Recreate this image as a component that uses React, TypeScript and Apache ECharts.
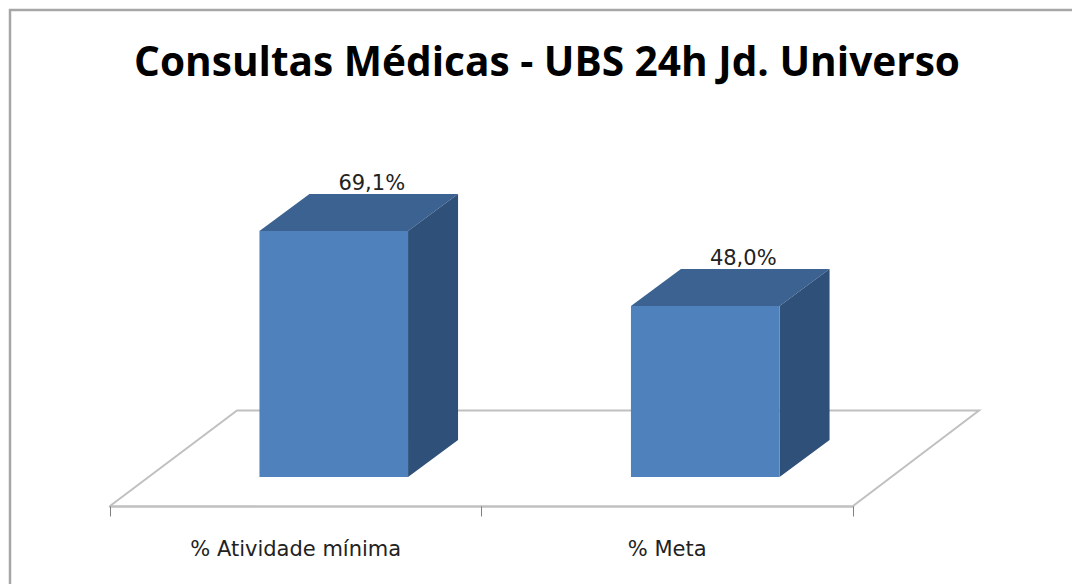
import React, { useEffect, useRef } from "react";
import * as echarts from "echarts";

const titleText = "Consultas Médicas - UBS 24h Jd. Universo";
const categories = ["% Atividade mínima", "% Meta"];
const values = [69.1, 48.0];
const valueLabels = ["69,1%", "48,0%"];

const FRONT = "#4f81bd";
const TOP = "#3c6291";
const SIDE = "#2f5078";
const DX = 50;
const DY = -37;
const SHIFT = 38;

export default function App() {
  const ref = useRef<HTMLDivElement>(null);
  useEffect(() => {
    const chart = echarts.init(ref.current!, null, { renderer: "svg" });
    chart.setOption({
      animation: false,
      backgroundColor: "#ffffff",
      title: {
        text: titleText,
        left: 542,
        top: 35,
        textAlign: "center",
        textStyle: { fontFamily: "Open Sans", fontWeight: "bold", fontSize: 40.6, color: "#000000" },
      },
      grid: { left: 110, right: 219, top: 121, bottom: 107 },
      xAxis: {
        type: "category",
        data: categories,
        offset: 29.5,
        axisLine: { onZero: false, lineStyle: { color: "#c0c0c0", width: 2.5 } },
        axisTick: { show: true, length: 10, lineStyle: { color: "#808080", width: 1 } },
        axisLabel: { margin: 32, fontFamily: "DejaVu Sans", fontSize: 21, color: "#222222" },
      },
      yAxis: { type: "value", min: 0, max: 100, show: false },
      graphic: [
        {
          type: "polyline",
          z: 0,
          shape: { points: [[10, 584], [10, 10], [1072, 10]] },
          style: { stroke: "#a6a6a6", lineWidth: 2.5, fill: "none" },
        },
        {
          type: "polyline",
          z: 0,
          shape: { points: [[110, 506], [237, 410.5], [979, 410.5], [853, 506]] },
          style: { stroke: "#c0c0c0", lineWidth: 2, fill: "none" },
        },
      ],
      series: [
        {
          type: "custom",
          z: 5,
          data: categories.map((c, i) => [i, values[i]]),
          encode: { x: 0, y: 1 },
          renderItem: (params: any, api: any) => {
            const i = api.value(0);
            const [cx, y1] = api.coord([i, api.value(1)]);
            const [, y0] = api.coord([i, 0]);
            const w = api.size([1, 0])[0] * 0.4;
            const x0 = cx + SHIFT - w / 2;
            const x1 = x0 + w;
            return {
              type: "group",
              children: [
                {
                  type: "polygon",
                  shape: { points: [[x0, y1], [x1, y1], [x1 + DX, y1 + DY], [x0 + DX, y1 + DY]] },
                  style: { fill: TOP },
                },
                {
                  type: "polygon",
                  shape: { points: [[x1, y1], [x1 + DX, y1 + DY], [x1 + DX, y0 + DY], [x1, y0]] },
                  style: { fill: SIDE },
                },
                {
                  type: "rect",
                  shape: { x: x0, y: y1, width: w, height: y0 - y1 },
                  style: { fill: FRONT },
                },
                {
                  type: "text",
                  z2: 10,
                  style: {
                    x: cx + SHIFT + 38,
                    y: y1 + DY - 1,
                    text: valueLabels[i],
                    fill: "#222222",
                    font: "21px 'DejaVu Sans'",
                    align: "center",
                    verticalAlign: "bottom",
                  },
                },
              ],
            };
          },
        },
      ],
    });
    return () => chart.dispose();
  }, []);
  return <div ref={ref} style={{ position: "absolute", left: 0, top: 0, width: 1072, height: 584 }} />;
}
